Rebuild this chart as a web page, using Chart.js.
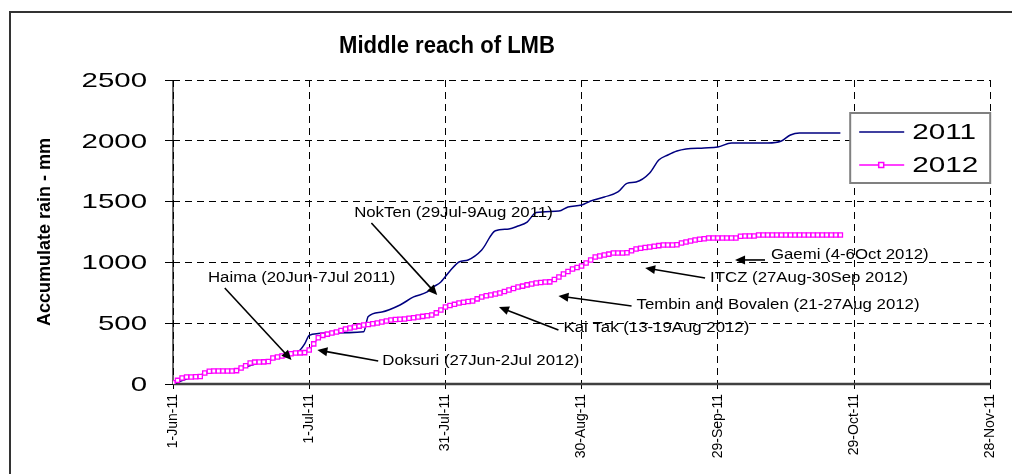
<!DOCTYPE html>
<html>
<head>
<meta charset="utf-8">
<script src="https://cdn.jsdelivr.net/npm/chart.js@4"></script>
<style>
  body { margin: 0; background: #fff; }
  #wrap { width: 1012px; height: 474px; position: relative; }
</style>
</head>
<body>
<div id="wrap"><canvas id="rainChart"></canvas></div>
<script>
// x axis is days since 1-Jun-11
const tickLabels = ['1-Jun-11', '1-Jul-11', '31-Jul-11', '30-Aug-11', '29-Sep-11', '29-Oct-11', '28-Nov-11'];
const seriesNames = ['2011', '2012'];

// 2011 - at irregular days
const days2011 = [0, 3, 7, 10, 12, 14, 16, 19, 22, 25, 27, 28, 29, 30, 32, 34, 42, 43, 46, 50, 53, 56, 57, 59, 61, 63, 65, 68, 71, 74, 76, 78, 80, 85, 87, 90, 92, 95, 98, 100, 102, 105, 107, 109, 111, 113, 117, 120, 123, 131, 134, 136, 138, 147];
const rain2011 = [0, 40, 85, 100, 115, 122, 140, 175, 205, 245, 262, 280, 330, 400, 415, 420, 430, 555, 592, 650, 716, 757, 790, 839, 930, 1003, 1020, 1102, 1260, 1275, 1299, 1332, 1410, 1422, 1456, 1472, 1505, 1538, 1579, 1650, 1661, 1735, 1842, 1883, 1916, 1933, 1941, 1949, 1982, 1982, 1998, 2048, 2064, 2064];

// 2012 - one value per day from 1-Jun
const rain2012 = [
  10, 30, 50, 58, 58, 60, 62, 90, 105, 107,
  107, 107, 107, 107, 110, 132, 150, 173, 180, 181,
  182, 185, 214, 222, 230, 238, 248, 255, 256, 258,
  280, 330, 380, 400, 410, 420, 428, 440, 452, 460,
  469, 476, 485, 490, 496, 502, 510, 518, 526, 530,
  533, 535, 540, 545, 551, 556, 561, 567, 585, 609,
  633, 645, 655, 666, 672, 678, 683, 700, 715, 725,
  732, 740, 748, 760, 773, 785, 798, 805, 815, 822,
  830, 835, 839, 840, 860, 880, 905, 925, 946, 958,
  970, 995, 1020, 1044, 1052, 1061, 1068, 1077, 1077, 1077,
  1080, 1095, 1110, 1117, 1122, 1127, 1133, 1138, 1143, 1143,
  1143, 1145, 1160, 1168, 1176, 1184, 1190, 1195, 1200, 1200,
  1200, 1200, 1200, 1200, 1200, 1215, 1217, 1217, 1217, 1225,
  1225, 1225, 1225, 1225, 1225, 1225, 1225, 1225, 1225, 1225,
  1225, 1225, 1225, 1225, 1225, 1225, 1225, 1225
];

// event notes: label anchor and arrow (tail -> head), in day / mm
const notes = [
  { text: 'NokTen (29Jul-9Aug 2011)', at: [39.9, 1406], from: [43.7, 1324], to: [58.2, 732] },
  { text: 'Haima (20Jun-7Jul 2011)', at: [7.7, 872], from: [11.4, 789], to: [26.1, 197] },
  { text: 'Doksuri (27Jun-2Jul 2012)', at: [46.1, 189], from: [45.2, 189], to: [31.8, 280] },
  { text: 'Kai Tak (13-19Aug 2012)', at: [86.0, 461], from: [84.9, 444], to: [71.8, 633] },
  { text: 'Tembin and Bovalen (21-27Aug 2012)', at: [102.1, 650], from: [101.0, 641], to: [84.9, 724] },
  { text: 'ITCZ (27Aug-30Sep 2012)', at: [118.3, 872], from: [117.2, 872], to: [104.0, 954] },
  { text: 'Gaemi (4-6Oct 2012)', at: [131.7, 1061], from: [130.4, 1020], to: [123.8, 1020] }
];

const FONT = "'Liberation Sans', Arial, sans-serif";
const navy = '#000080';
const magenta = '#ff00ff';

// the original picture is a bit stretched sideways, so text is widened
function wideText(ctx, text, x, y, sx, align) {
    ctx.save();
    ctx.translate(x, y);
    ctx.scale(sx, 1);
    ctx.textAlign = align;
    ctx.fillText(text, 0, 0);
    ctx.restore();
}

function arrow(ctx, x1, y1, x2, y2) {
    const a = Math.atan2(y2 - y1, x2 - x1);
    const len = 10, w = 4.5;
    ctx.beginPath();
    ctx.moveTo(x1, y1);
    ctx.lineTo(x2 - Math.cos(a) * len * 0.8, y2 - Math.sin(a) * len * 0.8);
    ctx.stroke();
    ctx.beginPath();
    ctx.moveTo(x2, y2);
    ctx.lineTo(x2 - Math.cos(a) * len - Math.sin(a) * w, y2 - Math.sin(a) * len + Math.cos(a) * w);
    ctx.lineTo(x2 - Math.cos(a) * len + Math.sin(a) * w, y2 - Math.sin(a) * len - Math.cos(a) * w);
    ctx.closePath();
    ctx.fill();
}

const extras = {
    id: 'extras',
    beforeDatasetsDraw(chart) {
        const ctx = chart.ctx;
        const area = chart.chartArea;
        const ys = chart.scales.y;
        ctx.save();
        // solid axis lines
        ctx.strokeStyle = '#000';
        ctx.lineWidth = 1.2;
        ctx.beginPath();
        ctx.moveTo(area.left, area.top);
        ctx.lineTo(area.left, area.bottom);
        ctx.stroke();
        ctx.strokeStyle = '#404040';
        ctx.lineWidth = 2.5;
        ctx.beginPath();
        ctx.moveTo(area.left, area.bottom);
        ctx.lineTo(area.right, area.bottom);
        ctx.stroke();

        // y tick labels
        ctx.fillStyle = '#000';
        ctx.font = '21px ' + FONT;
        ctx.textBaseline = 'middle';
        ys.ticks.forEach(t => {
            wideText(ctx, String(t.value), area.left - 26, ys.getPixelForValue(t.value) + 1, 1.4, 'right');
        });
        ctx.restore();
    },
    afterDatasetsDraw(chart) {
        const ctx = chart.ctx;
        const xs = chart.scales.x, ys = chart.scales.y;
        const area = chart.chartArea;
        ctx.save();

        // annotations
        ctx.fillStyle = '#000';
        ctx.strokeStyle = '#000';
        ctx.lineWidth = 1.6;
        ctx.font = '14px ' + FONT;
        ctx.textBaseline = 'middle';
        notes.forEach(n => {
            wideText(ctx, n.text, xs.getPixelForValue(n.at[0]), ys.getPixelForValue(n.at[1]), 1.2, 'left');
            arrow(ctx, xs.getPixelForValue(n.from[0]), ys.getPixelForValue(n.from[1]),
                xs.getPixelForValue(n.to[0]), ys.getPixelForValue(n.to[1]));
        });

        // legend box
        const lx = area.right - 140, ly = area.top + 33, lw = 140, lh = 70;
        ctx.fillStyle = '#fff';
        ctx.fillRect(lx, ly, lw, lh);
        ctx.strokeStyle = '#808080';
        ctx.lineWidth = 2;
        ctx.strokeRect(lx, ly, lw, lh);
        const rows = [ly + 19, ly + 52];
        chart.data.datasets.forEach((ds, i) => {
            const y = rows[i];
            ctx.strokeStyle = ds.borderColor;
            ctx.lineWidth = 1.5;
            ctx.beginPath();
            ctx.moveTo(lx + 9, y);
            ctx.lineTo(lx + 54, y);
            ctx.stroke();
            if (ds.pointRadius > 0) {
                ctx.fillStyle = '#fff';
                ctx.fillRect(lx + 28.5, y - 2.5, 5, 5);
                ctx.strokeRect(lx + 28.5, y - 2.5, 5, 5);
            }
            ctx.fillStyle = '#000';
            ctx.font = '22px ' + FONT;
            wideText(ctx, ds.label, lx + 62, y + 1, 1.35, 'left');
        });

        // title
        ctx.fillStyle = '#000';
        ctx.font = 'bold 24px ' + FONT;
        wideText(ctx, 'Middle reach of LMB', 447, 46, 0.92, 'center');

        // outer frame
        ctx.strokeStyle = '#333';
        ctx.lineWidth = 2;
        ctx.strokeRect(10, 12, 1020, 480);
        ctx.restore();
    }
};

const config = {
    type: 'line',
    data: {
        datasets: [
            {
                label: seriesNames[0],
                data: days2011.map((d, i) => ({ x: d, y: rain2011[i] })),
                borderColor: navy,
                borderWidth: 1.5,
                pointRadius: 0,
                cubicInterpolationMode: 'monotone',
                order: 1
            },
            {
                label: seriesNames[1],
                data: rain2012.map((v, i) => ({ x: i, y: v })),
                borderColor: magenta,
                backgroundColor: '#fff',
                borderWidth: 1.5,
                pointStyle: 'rect',
                pointRadius: 3,
                pointBorderWidth: 1.3,
                pointBorderColor: magenta,
                pointBackgroundColor: '#fff',
                order: 0
            }
        ]
    },
    options: {
        responsive: true,
        maintainAspectRatio: false,
        animation: false,
        layout: { padding: { top: 80, right: 19, bottom: 0, left: 0 } },
        plugins: {
            legend: { display: false },
            title: { display: false },
            tooltip: { enabled: false }
        },
        scales: {
            x: {
                type: 'linear',
                min: 0,
                max: 180,
                afterFit: s => { s.height = 90; },
                afterBuildTicks: s => { s.ticks = tickLabels.map((t, i) => ({ value: i * 30 })); },
                ticks: {
                    stepSize: 30,
                    minRotation: 90,
                    maxRotation: 90,
                    padding: 5,
                    color: '#000',
                    font: { family: FONT, size: 14 },
                    callback: (v) => tickLabels[Math.round(v / 30)]
                },
                grid: { color: '#000', lineWidth: 1, tickLength: 5, tickColor: '#000' },
                border: { display: false, dash: [7, 5] }
            },
            y: {
                min: 0,
                max: 2500,
                afterFit: s => { s.width = 173; },
                ticks: { stepSize: 500, display: false },
                title: {
                    display: true,
                    text: 'Accumulate rain - mm',
                    color: '#000',
                    font: { family: FONT, size: 18, weight: 'bold' },
                    padding: { top: 34, bottom: 0 }
                },
                grid: { color: '#000', lineWidth: 1, tickLength: 8, tickColor: '#000' },
                border: { display: false, dash: [7, 5] }
            }
        }
    },
    plugins: [extras]
};

new Chart(document.getElementById('rainChart').getContext('2d'), config);
</script>
</body>
</html>
